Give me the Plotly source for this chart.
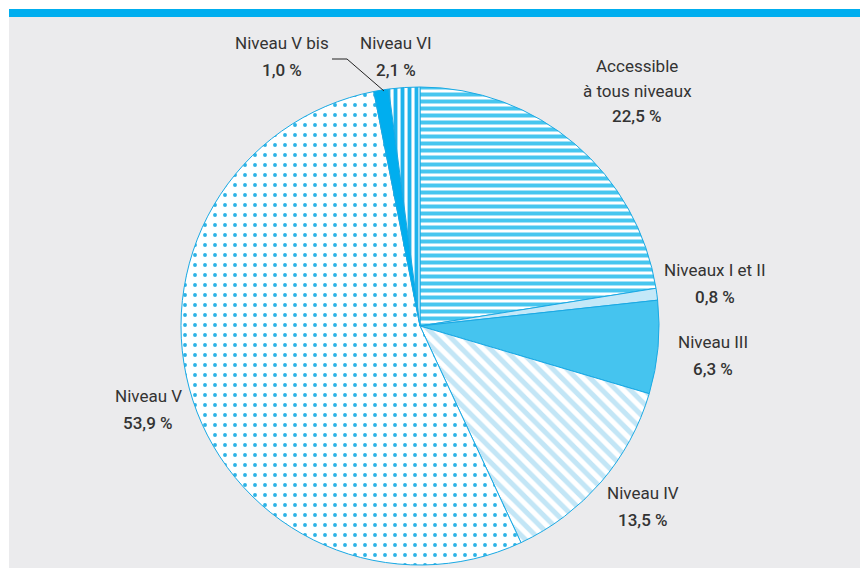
import plotly.graph_objects as go

labels = ["Accessible<br>à tous niveaux", "Niveaux I et II", "Niveau III", "Niveau IV",
          "Niveau V", "Niveau V bis", "Niveau VI"]
values = [22.5, 0.8, 6.3, 13.5, 53.9, 1.0, 2.1]
value_text = ["22,5 %", "0,8 %", "6,3 %", "13,5 %", "53,9 %", "1,0 %", "2,1 %"]

shapes_pat = ["-", "", "", "\\", ".", "", "|"]
fg = ["#47c6ef", "#c4e8f8", "#45c4ef", "#c3e6f6", "#2cb3e6", "#00aeef", "#1fb3ec"]
bg = ["#ffffff", "#c4e8f8", "#45c4ef", "#ffffff", "#ffffff", "#00aeef", "#ffffff"]
pat_size = [7, 8, 8, 10, 10, 8, 7]
pat_sol = [0.57, 0.5, 0.5, 0.5, 0.12, 0.5, 0.55]

# label anchor positions in pixels (x, y of first line centre)
label_px = [(637, 66), (715, 270), (713, 342), (643, 493), (148, 396), (282, 43), (396, 43)]

W, H = 860, 568
fig = go.Figure()
fig.add_trace(go.Pie(
    labels=labels, values=values, sort=False, direction="clockwise", rotation=0,
    textinfo="none", hoverinfo="label+percent",
    marker=dict(colors=bg, line=dict(color="#1aa9e4", width=1),
                pattern=dict(shape=shapes_pat, fgcolor=fg, bgcolor=bg,
                             size=pat_size, solidity=pat_sol, fillmode="replace")),
    domain=dict(x=[181 / W, 659 / W], y=[1 - 565 / H, 1 - 87 / H]),
    showlegend=False,
))

font = dict(family="Roboto, sans-serif", size=17, color="#333333")
font_num = dict(family="Roboto, sans-serif", size=17, color="#333333", weight=500)
annotations = []
for lab, vt, (px, py) in zip(labels, value_text, label_px):
    lines = lab.split("<br>")
    for i, ln in enumerate(lines):
        annotations.append(dict(x=px / W, y=1 - (py + i * 25) / H, xref="paper", yref="paper",
                                text=ln, showarrow=False, font=font, xanchor="center", yanchor="middle"))
    annotations.append(dict(x=px / W, y=1 - (py + len(lines) * 25 + (2 if len(lines) == 1 else 0)) / H,
                            xref="paper", yref="paper", text=vt, showarrow=False,
                            font=font_num, xanchor="center", yanchor="middle"))

shapes = [
    dict(type="rect", xref="paper", yref="paper", x0=9 / W, x1=1, y0=0, y1=1 - 17 / H,
         fillcolor="#ebebed", line=dict(width=0), layer="below"),
    dict(type="rect", xref="paper", yref="paper", x0=9 / W, x1=1, y0=1 - 17 / H, y1=1 - 9 / H,
         fillcolor="#00aeef", line=dict(width=0), layer="below"),
    dict(type="path", xref="paper", yref="paper",
         path=f"M {332 / W},{1 - 59 / H} L {347 / W},{1 - 59 / H} L {384 / W},{1 - 91 / H}",
         line=dict(color="#222222", width=1)),
]

fig.update_layout(width=W, height=H, margin=dict(l=0, r=0, t=0, b=0),
                  paper_bgcolor="#ffffff", plot_bgcolor="#ffffff",
                  annotations=annotations, shapes=shapes)
fig.write_html("out.html")
